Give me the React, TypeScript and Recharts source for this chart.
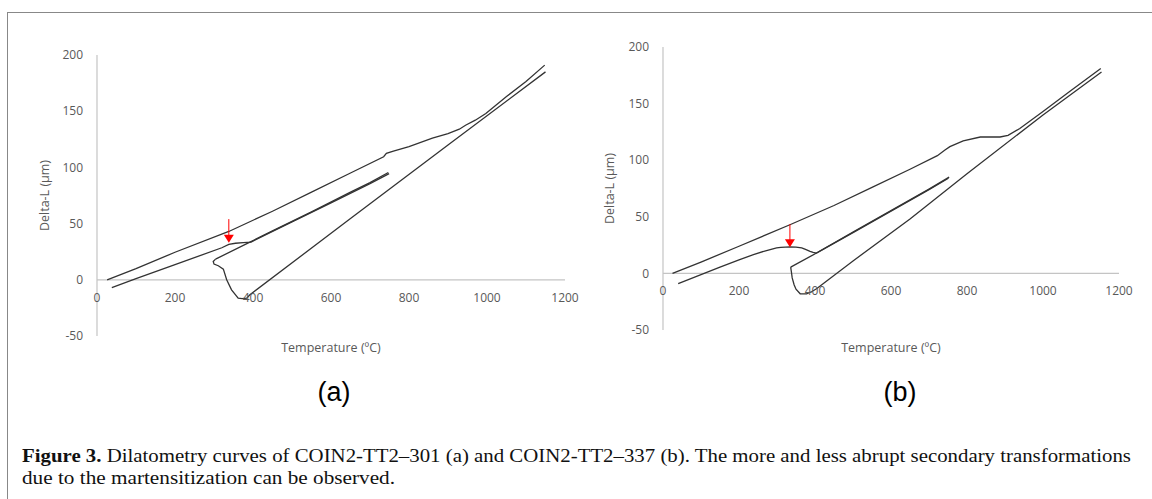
import React from 'react';
import { LineChart, Line, XAxis, YAxis, ReferenceLine, ReferenceDot } from 'recharts';

type P = { t: number; v: number };
const mk = (a: number[][]): P[] => a.map(([t, v]) => ({ t, v }));

// ---------- chart (a) COIN2-TT2-301 ----------
const heatA = mk([[26,0],[100,10],[200,24.5],[338,43],[450,61],[550,78],[650,95],[735,109.5],[742,112.5],[760,114.5],[800,118.5],[860,126],[900,130],[929,134],[945,137.5],[970,142],[997,148],[1050,163],[1100,176.5],[1148,191]]);
const coolA = mk([[1150,185],[900,120],[650,54.5],[392,-13.3],[384,-16.3],[372,-16.8],[362,-16.3],[345,-8.9],[332.5,0],[324,9.5],[311,12.5],[300,14],[298,16.3],[304,18.4]]);
const reheatA = mk([[304,18.4],[392,33.5],[450,43.5],[550,60.5],[650,78],[700,86.5],[747,95.5]]);
const finalA = mk([[749,94.5],[700,85.5],[600,68.5],[500,51.5],[420,38],[395,33.5],[375,33],[355,32.5],[338,31.5],[320,28.5],[200,13.5],[100,1],[38,-7]]);
const arrowA = { t: 338, top: 54, tip: 33 };

// ---------- chart (b) COIN2-TT2-337 ----------
const heatB = mk([[25,0],[100,10],[200,24],[334,43],[450,60],[550,76],[650,92],[722,104],[742,109],[755,112],[790,117],[835,120.5],[887,120.5],[908,122],[939,128],[1000,143],[1071,161],[1152,181]]);
const coolB = mk([[1154,178],[1000,140],[800,88],[650,48],[500,11],[404,-13.5],[392,-16],[378,-18],[361,-18],[350,-14],[345,-10],[340,-4],[338,1],[336,5.5]]);
const reheatB = mk([[336,5.5],[404,18],[500,36.5],[600,55.5],[700,74.5],[753,85]]);
const finalB = mk([[751,84],[700,74],[600,55],[500,36],[420,21],[404,18],[395,18.5],[387,19.5],[375,21.2],[365,22.5],[350,23.3],[334,23.5],[310,23],[299,22.5],[270,20],[238,16.5],[200,12],[150,5.5],[100,-1],[40,-9]]);
const arrowB = { t: 334, top: 43.5, tip: 23 };

const xTicks = [0, 200, 400, 600, 800, 1000, 1200];
const yTicks = [-50, 0, 50, 100, 150, 200];
const xDomain: [number, number] = [0, 1200];
const yDomain: [number, number] = [-50, 200];

const captionBold = 'Figure 3.';
const captionLine1 = ' Dilatometry curves of COIN2-TT2–301 (a) and COIN2-TT2–337 (b). The more and less abrupt secondary transformations';
const captionLine2 = 'due to the martensitization can be observed.';

const AXIS = '#c4c4c4';
const TXT = '#595959';
const CURVE = '#333333';
const FONT = "'Open Sans', sans-serif";

const Head = (props: any) => {
  const { cx, cy } = props;
  return <polygon points={`${cx},${cy} ${cx - 5},${cy - 8} ${cx + 5},${cy - 8}`} fill="#ff0000" />;
};

function makeXTick(plotH: number) {
  const zeroShift = (plotH * (0 - yDomain[0])) / (yDomain[1] - yDomain[0]);
  return (props: any) => {
    const { x, y, payload } = props;
    return (
      <text x={x} y={y - zeroShift + 22} textAnchor="middle" fill={TXT} fontSize={12} fontFamily={FONT}>
        {payload.value}
      </text>
    );
  };
}

type PanelProps = {
  left: number; width: number; height: number;
  margin: { top: number; right: number; bottom: number; left: number };
  xAxisH: number; plotH: number; ylabOffset: number; xlabOffset: number;
  series: P[][]; arrow: { t: number; top: number; tip: number };
};

function Panel(p: PanelProps) {
  const Tick = makeXTick(p.plotH);
  return (
    <div style={{ position: 'absolute', left: p.left, top: 0 }}>
      <LineChart width={p.width} height={p.height} margin={p.margin}>
        <XAxis
          type="number" dataKey="t" domain={xDomain} ticks={xTicks} interval={0}
          axisLine={false} tickLine={false} tickSize={0} tickMargin={0}
          height={p.xAxisH} tick={<Tick />} allowDataOverflow
          label={{ value: 'Temperature (ºC)', position: 'insideBottom', offset: p.xlabOffset, fill: TXT, fontSize: 12.5, fontFamily: FONT }}
        />
        <YAxis
          type="number" dataKey="v" domain={yDomain} ticks={yTicks} interval={0} width={60}
          axisLine={{ stroke: AXIS, strokeWidth: 1.2 }} tickLine={false} tickSize={0} tickMargin={14}
          tick={{ fill: TXT, fontSize: 12, fontFamily: FONT }} allowDataOverflow
          label={{ value: 'Delta-L (µm)', angle: -90, position: 'insideLeft', offset: p.ylabOffset, fill: TXT, fontSize: 12.5, fontFamily: FONT, style: { textAnchor: 'middle' } }}
        />
        <ReferenceLine y={0} stroke={AXIS} strokeWidth={1.2} />
        {p.series.map((d, i) => (
          <Line key={i} data={d} dataKey="v" type="linear" stroke={CURVE} strokeWidth={1.3} dot={false} isAnimationActive={false} />
        ))}
        <ReferenceLine segment={[{ x: p.arrow.t, y: p.arrow.top }, { x: p.arrow.t, y: p.arrow.tip + 5 }]} stroke="#ff0000" strokeWidth={1} />
        <ReferenceDot x={p.arrow.t} y={p.arrow.tip} shape={<Head />} />
      </LineChart>
    </div>
  );
}

export default function App() {
  return (
    <div style={{ position: 'absolute', left: 0, top: 0, width: 1152, height: 499, overflow: 'hidden', background: '#fff' }}>
      <div style={{ position: 'absolute', left: 7, top: 12, width: 1160, height: 520, borderTop: '1.5px solid #888', borderLeft: '1.5px solid #888' }} />
      <Panel left={0} width={580} height={365} margin={{ top: 55, right: 15, bottom: 0, left: 37 }} xAxisH={29} plotH={281}
        ylabOffset={8} xlabOffset={13} series={[heatA, coolA, reheatA, finalA]} arrow={arrowA} />
      <Panel left={560} width={580} height={360} margin={{ top: 47, right: 21, bottom: 0, left: 43 }} xAxisH={30} plotH={283}
        ylabOffset={7} xlabOffset={8} series={[heatB, coolB, reheatB, finalB]} arrow={arrowB} />
      <svg width={1152} height={499} style={{ position: 'absolute', left: 0, top: 0, pointerEvents: 'none' }}>
        <text x={334} y={401} textAnchor="middle" fontFamily="'Liberation Sans', Arial, sans-serif" fontSize={27} fill="#000">(a)</text>
        <text x={900} y={401} textAnchor="middle" fontFamily="'Liberation Sans', Arial, sans-serif" fontSize={27} fill="#000">(b)</text>
        <text x={22} y={462} fontFamily="'Liberation Serif', serif" fontSize={19.5} fill="#111" textLength={1109} lengthAdjust="spacingAndGlyphs">
          <tspan fontWeight="bold">{captionBold}</tspan>{captionLine1}
        </text>
        <text x={22} y={484} fontFamily="'Liberation Serif', serif" fontSize={19.5} fill="#111" textLength={373} lengthAdjust="spacingAndGlyphs">
          {captionLine2}
        </text>
      </svg>
    </div>
  );
}
